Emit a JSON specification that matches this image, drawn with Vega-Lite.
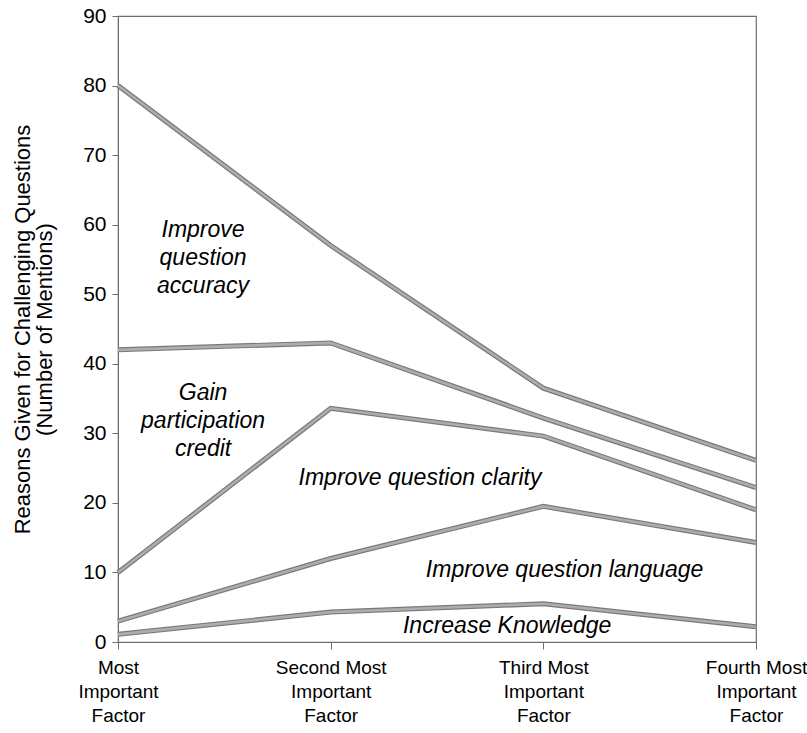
{
  "$schema": "https://vega.github.io/schema/vega-lite/v6.json",
  "width": 638,
  "height": 626,
  "autosize": {"type": "none"},
  "padding": {"left": 118, "top": 16, "right": 51, "bottom": 91},
  "background": "white",
  "config": {
    "font": "Liberation Sans",
    "view": {"stroke": "#6e6e6e", "strokeWidth": 1.2}
  },
  "datasets": {
    "lines": [
      {"series": "s1", "idx": 0, "value": 80},
      {"series": "s1", "idx": 1, "value": 57},
      {"series": "s1", "idx": 2, "value": 36.5},
      {"series": "s1", "idx": 3, "value": 26.1},
      {"series": "s2", "idx": 0, "value": 42},
      {"series": "s2", "idx": 1, "value": 43},
      {"series": "s2", "idx": 2, "value": 32.2},
      {"series": "s2", "idx": 3, "value": 22.2},
      {"series": "s3", "idx": 0, "value": 10},
      {"series": "s3", "idx": 1, "value": 33.6},
      {"series": "s3", "idx": 2, "value": 29.6},
      {"series": "s3", "idx": 3, "value": 19},
      {"series": "s4", "idx": 0, "value": 3},
      {"series": "s4", "idx": 1, "value": 12},
      {"series": "s4", "idx": 2, "value": 19.5},
      {"series": "s4", "idx": 3, "value": 14.3},
      {"series": "s5", "idx": 0, "value": 1.1},
      {"series": "s5", "idx": 1, "value": 4.3},
      {"series": "s5", "idx": 2, "value": 5.5},
      {"series": "s5", "idx": 3, "value": 2.2}
    ],
    "labels": [
      {"text": "Improve\nquestion\naccuracy", "x": 0.40, "y": 59.2},
      {"text": "Gain\nparticipation\ncredit", "x": 0.40, "y": 35.8},
      {"text": "Improve question clarity", "x": 1.42, "y": 23.6},
      {"text": "Improve question language", "x": 2.10, "y": 10.3},
      {"text": "Increase Knowledge", "x": 1.83, "y": 2.3}
    ]
  },
  "encoding": {
    "x": {
      "type": "quantitative",
      "scale": {"domain": [0, 3], "nice": false, "zero": false},
      "axis": {
        "title": null,
        "values": [0, 1, 2, 3],
        "grid": false,
        "domainColor": "#6e6e6e",
        "tickColor": "#6e6e6e",
        "tickSize": 7,
        "labelFont": "Liberation Sans",
        "labelFontSize": 19,
        "labelColor": "#000",
        "labelPadding": 9,
        "labelLineHeight": 24,
        "labelFlush": false,
        "labelExpr": "[['Most','Second Most','Third Most','Fourth Most'][datum.value], 'Important', 'Factor']"
      }
    },
    "y": {
      "type": "quantitative",
      "scale": {"domain": [0, 90], "nice": false},
      "axis": {
        "title": ["Reasons Given for Challenging Questions", "(Number of Mentions)"],
        "titleFont": "Liberation Sans",
        "titleFontSize": 22,
        "titleFontWeight": "normal",
        "titleColor": "#000",
        "titleLineHeight": 22,
        "titlePadding": 26,
        "values": [0, 10, 20, 30, 40, 50, 60, 70, 80, 90],
        "grid": false,
        "domainColor": "#6e6e6e",
        "tickColor": "#6e6e6e",
        "tickSize": 6,
        "labelFont": "Liberation Sans",
        "labelFontSize": 21,
        "labelColor": "#000",
        "labelPadding": 6
      }
    }
  },
  "layer": [
    {
      "data": {"name": "lines"},
      "mark": {"type": "line", "color": "#7a7a7a", "strokeWidth": 5, "clip": false},
      "encoding": {
        "x": {"field": "idx", "type": "quantitative"},
        "y": {"field": "value", "type": "quantitative"},
        "detail": {"field": "series"}
      }
    },
    {
      "data": {"name": "lines"},
      "mark": {"type": "line", "color": "#adadad", "strokeWidth": 2.6, "clip": false},
      "encoding": {
        "x": {"field": "idx", "type": "quantitative"},
        "y": {"field": "value", "type": "quantitative"},
        "detail": {"field": "series"}
      }
    },
    {
      "data": {"name": "labels"},
      "mark": {
        "type": "text",
        "font": "Liberation Sans",
        "fontSize": 23,
        "fontStyle": "italic",
        "color": "#000",
        "lineBreak": "\n",
        "lineHeight": 28,
        "align": "center",
        "baseline": "middle"
      },
      "encoding": {
        "x": {"field": "x", "type": "quantitative"},
        "y": {"field": "y", "type": "quantitative"},
        "text": {"field": "text"}
      }
    }
  ]
}
